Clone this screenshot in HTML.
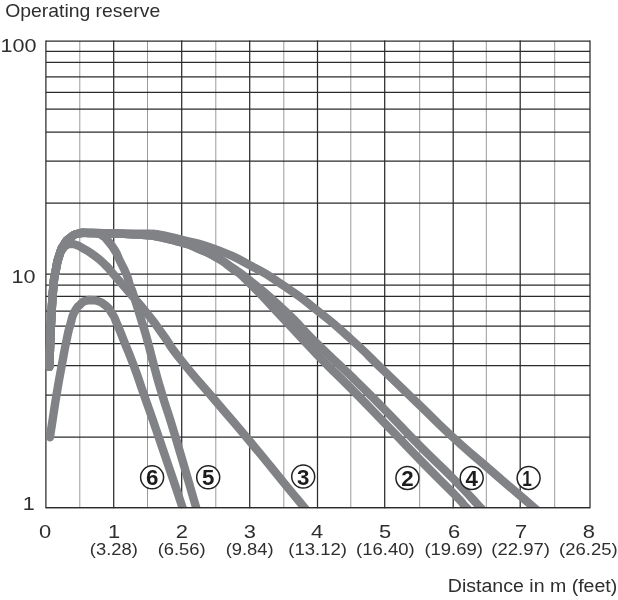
<!DOCTYPE html>
<html lang="en"><head><meta charset="utf-8"><title>Operating reserve</title>
<style>
html,body{margin:0;padding:0;background:#fff}
svg{display:block;will-change:transform}
text{font-family:"Liberation Sans",sans-serif;fill:#2e2e2e}
</style></head><body>
<svg width="618" height="600" viewBox="0 0 618 600">
<rect width="618" height="600" fill="#fff"/>
<defs><clipPath id="cp"><rect x="45.4" y="30" width="560" height="477.6"/></clipPath></defs>

<g stroke="#9a9a9e" stroke-width="1"><line x1="79.80" y1="41.1" x2="79.80" y2="507.6"/><line x1="147.50" y1="41.1" x2="147.50" y2="507.6"/><line x1="215.80" y1="41.1" x2="215.80" y2="507.6"/><line x1="283.80" y1="41.1" x2="283.80" y2="507.6"/><line x1="350.80" y1="41.1" x2="350.80" y2="507.6"/><line x1="419.70" y1="41.1" x2="419.70" y2="507.6"/><line x1="486.30" y1="41.1" x2="486.30" y2="507.6"/><line x1="554.70" y1="41.1" x2="554.70" y2="507.6"/></g>
<g stroke="#2b2b2b" stroke-width="1.25"><line x1="45.90" y1="40.5" x2="45.90" y2="508.2"/><line x1="113.70" y1="40.5" x2="113.70" y2="508.2"/><line x1="181.70" y1="40.5" x2="181.70" y2="508.2"/><line x1="249.70" y1="40.5" x2="249.70" y2="508.2"/><line x1="317.50" y1="40.5" x2="317.50" y2="508.2"/><line x1="384.70" y1="40.5" x2="384.70" y2="508.2"/><line x1="453.20" y1="40.5" x2="453.20" y2="508.2"/><line x1="520.20" y1="40.5" x2="520.20" y2="508.2"/><line x1="590.00" y1="40.5" x2="590.00" y2="508.2"/><line x1="45.90" y1="41.1" x2="590.00" y2="41.1"/><line x1="45.90" y1="51.4" x2="590.00" y2="51.4"/><line x1="45.90" y1="62.3" x2="590.00" y2="62.3"/><line x1="45.90" y1="76.8" x2="590.00" y2="76.8"/><line x1="45.90" y1="92.4" x2="590.00" y2="92.4"/><line x1="45.90" y1="109.0" x2="590.00" y2="109.0"/><line x1="45.90" y1="132.0" x2="590.00" y2="132.0"/><line x1="45.90" y1="161.0" x2="590.00" y2="161.0"/><line x1="45.90" y1="203.0" x2="590.00" y2="203.0"/><line x1="45.90" y1="274.0" x2="590.00" y2="274.0"/><line x1="45.90" y1="285.0" x2="590.00" y2="285.0"/><line x1="45.90" y1="296.4" x2="590.00" y2="296.4"/><line x1="45.90" y1="311.0" x2="590.00" y2="311.0"/><line x1="45.90" y1="326.0" x2="590.00" y2="326.0"/><line x1="45.90" y1="343.6" x2="590.00" y2="343.6"/><line x1="45.90" y1="365.6" x2="590.00" y2="365.6"/><line x1="45.90" y1="395.0" x2="590.00" y2="395.0"/><line x1="45.90" y1="437.0" x2="590.00" y2="437.0"/><line x1="45.90" y1="507.6" x2="590.00" y2="507.6"/></g>
<g clip-path="url(#cp)" fill="none" stroke="#808285" stroke-width="8.4" stroke-linecap="round" stroke-linejoin="round">
<path d="M49.3 366.8 C49.6 359.5 49.5 360.6 50.1 345.0 C50.7 329.4 50.1 339.3 51.2 320.0 C52.3 300.7 51.8 303.7 53.3 287.0 C54.8 270.3 53.8 280.7 55.8 270.0 C57.8 259.3 56.6 263.5 59.4 255.0 C62.2 246.5 60.5 250.3 64.2 244.5 C67.9 238.7 65.6 241.3 70.5 237.6 C75.4 233.9 72.3 235.0 78.8 233.5 C85.3 232.0 78.4 233.1 90.0 233.0 C101.6 232.9 98.6 233.2 113.6 233.3 C128.6 233.5 122.9 233.4 135.0 233.6 C147.1 233.8 143.2 233.7 150.0 233.8 C156.8 233.9 151.5 233.5 155.5 234.0 C159.5 234.5 153.2 233.3 162.0 235.2 C170.8 237.1 163.9 235.0 181.8 239.8 C199.7 244.6 193.1 241.0 215.8 249.5 C238.5 258.0 227.1 253.2 249.8 265.2 C272.5 277.3 261.2 270.6 283.8 285.8 C306.4 300.9 295.2 293.0 317.5 310.8 C339.8 328.5 328.4 318.8 350.8 339.0 C373.2 359.2 361.7 349.4 384.7 371.5 C407.7 393.6 396.9 383.2 419.7 405.2 C442.5 427.2 431.0 417.1 453.2 437.5 C475.4 457.9 467.4 450.0 486.3 466.5 C505.2 483.0 494.3 473.5 510.0 487.0 C525.7 500.5 523.0 498.1 533.5 507.1 C544.0 516.1 538.8 511.7 541.5 513.9"/>
<path d="M49.3 366.8 C49.6 359.5 49.5 360.6 50.1 345.0 C50.7 329.4 50.1 339.3 51.2 320.0 C52.3 300.7 51.8 303.7 53.3 287.0 C54.8 270.3 53.8 280.7 55.8 270.0 C57.8 259.3 56.6 263.5 59.4 255.0 C62.2 246.5 60.5 250.3 64.2 244.5 C67.9 238.7 65.6 241.3 70.5 237.6 C75.4 233.9 72.3 235.0 78.8 233.5 C85.3 232.0 78.4 233.0 90.0 233.0 C101.6 233.0 100.3 233.1 113.6 233.5 C126.9 233.9 118.8 233.6 130.0 234.2 C141.2 234.8 137.3 234.2 147.3 235.2 C157.3 236.2 148.5 234.7 160.0 237.2 C171.5 239.7 169.1 238.8 181.8 242.6 C194.5 246.4 186.7 243.8 198.0 248.6 C209.3 253.4 204.5 250.7 215.8 257.0 C227.1 263.3 220.7 259.6 232.0 267.5 C243.3 275.4 232.5 266.5 249.8 280.6 C267.1 294.7 261.2 288.7 283.8 309.9 C306.4 331.1 295.2 322.1 317.5 344.1 C339.8 366.1 328.4 354.0 350.8 375.8 C373.2 397.6 361.7 386.3 384.7 409.6 C407.7 432.9 396.9 422.8 419.7 445.8 C442.5 468.8 433.1 458.2 453.2 478.6 C473.3 499.1 468.4 494.8 480.0 507.1 C491.6 519.4 485.3 512.8 488.0 515.6"/>
<path d="M49.3 366.8 C49.6 359.5 49.5 360.6 50.1 345.0 C50.7 329.4 50.1 339.3 51.2 320.0 C52.3 300.7 51.8 303.7 53.3 287.0 C54.8 270.3 53.8 280.7 55.8 270.0 C57.8 259.3 56.6 263.5 59.4 255.0 C62.2 246.5 60.5 250.3 64.2 244.5 C67.9 238.7 65.6 241.3 70.5 237.6 C75.4 233.9 72.3 235.0 78.8 233.5 C85.3 232.0 78.4 233.0 90.0 233.0 C101.6 233.0 100.3 233.1 113.6 233.5 C126.9 233.9 118.8 233.6 130.0 234.2 C141.2 234.8 137.3 234.2 147.3 235.2 C157.3 236.2 148.5 234.7 160.0 237.2 C171.5 239.7 169.1 238.8 181.8 242.6 C194.5 246.4 186.7 243.8 198.0 248.6 C209.3 253.4 204.5 250.4 215.8 257.0 C227.1 263.6 220.7 259.7 232.0 268.5 C243.3 277.3 232.5 266.5 249.8 283.4 C267.1 300.3 261.2 295.2 283.8 319.1 C306.4 343.0 295.2 331.9 317.5 355.0 C339.8 378.1 328.4 365.6 350.8 388.3 C373.2 411.0 361.7 399.4 384.7 423.1 C407.7 446.8 396.9 436.1 419.7 459.5 C442.5 482.9 437.8 477.3 453.2 493.2 C468.6 509.1 459.0 499.5 465.9 507.1 C472.8 514.7 471.2 512.9 473.9 515.9"/>
<path d="M49.3 366.8 C49.6 359.5 49.5 360.6 50.1 345.0 C50.7 329.4 50.1 339.3 51.2 320.0 C52.3 300.7 51.8 303.7 53.4 287.0 C55.0 270.3 53.9 280.5 55.9 270.0 C57.9 259.5 57.3 262.4 59.5 255.5 C61.7 248.6 60.4 252.5 62.6 249.2 C64.8 245.9 63.5 247.3 66.0 245.6 C68.5 243.9 66.9 244.2 70.2 244.0 C73.5 243.8 71.7 243.4 76.0 244.9 C80.3 246.4 77.3 245.2 83.0 248.4 C88.7 251.6 85.7 249.2 93.0 254.6 C100.3 260.0 97.9 257.9 104.8 264.5 C111.7 271.1 105.3 264.9 113.7 274.5 C122.1 284.1 118.7 280.1 130.0 293.3 C141.3 306.5 136.5 300.2 147.5 314.0 C158.5 327.8 151.6 319.1 163.0 334.8 C174.4 350.5 164.2 338.9 181.8 361.0 C199.4 383.1 193.1 374.5 215.8 401.2 C238.5 427.9 227.2 414.1 249.8 441.2 C272.4 468.3 265.6 460.6 283.5 482.4 C301.4 504.2 294.2 495.3 303.4 506.5 C312.5 517.7 308.4 512.8 311.0 516.0"/>
<path d="M49.3 366.8 C49.6 359.5 49.5 360.6 50.1 345.0 C50.7 329.4 50.1 339.3 51.2 320.0 C52.3 300.7 51.8 303.7 53.3 287.0 C54.8 270.3 53.8 280.7 55.8 270.0 C57.8 259.3 56.6 263.5 59.4 255.0 C62.2 246.5 60.5 250.3 64.2 244.5 C67.9 238.7 65.6 241.3 70.5 237.6 C75.4 233.9 72.3 235.0 78.8 233.5 C85.3 232.0 84.3 233.0 90.0 233.0 C95.7 233.0 92.0 232.6 96.0 233.4 C100.0 234.2 98.0 233.0 102.0 235.5 C106.0 238.0 103.6 235.8 108.0 241.0 C112.4 246.2 111.4 244.7 115.2 251.0 C119.0 257.3 115.8 252.3 119.5 260.0 C123.2 267.7 122.8 265.6 126.3 274.0 C129.8 282.4 127.3 277.8 129.9 285.3 C132.5 292.8 129.6 282.9 134.0 296.5 C138.4 310.1 138.5 310.4 143.2 326.0 C147.9 341.6 144.6 330.3 148.2 343.4 C151.8 356.5 149.2 348.1 153.9 365.3 C158.6 382.5 155.1 371.2 162.3 395.0 C169.5 418.8 164.2 399.5 175.4 436.8 C186.6 474.1 188.2 480.4 195.9 506.8 C203.6 533.2 197.7 512.9 198.6 516.0"/>
<path d="M49.9 437.3 C50.8 431.5 50.4 434.1 52.6 420.0 C54.8 405.9 53.5 413.1 56.5 395.0 C59.5 376.9 58.3 384.0 61.7 365.7 C65.1 347.4 63.7 353.9 66.6 340.0 C69.5 326.1 67.9 333.3 70.5 324.0 C73.1 314.7 71.2 318.6 74.5 312.0 C77.8 305.4 76.7 307.9 80.5 304.2 C84.3 300.5 82.2 302.1 86.0 300.8 C89.8 299.5 88.0 300.1 92.0 300.2 C96.0 300.3 93.5 299.4 98.0 301.2 C102.5 303.0 100.8 301.4 105.5 305.5 C110.2 309.6 108.0 307.0 112.0 313.5 C116.0 320.0 113.2 315.0 117.5 325.0 C121.8 335.0 119.5 330.0 124.9 343.4 C130.3 356.8 127.2 348.1 133.6 365.3 C140.0 382.5 135.7 371.1 144.0 394.9 C152.3 418.7 145.8 399.5 158.6 436.8 C171.4 474.1 173.4 480.4 182.3 506.8 C191.2 533.2 184.4 512.9 185.4 516.0"/>
</g>
<line x1="45.90" y1="507.6" x2="590.00" y2="507.6" stroke="#2b2b2b" stroke-width="1.25"/>
<circle cx="152.1" cy="477.3" r="11.5" fill="#fff" stroke="#222" stroke-width="1.5"/>
<text x="152.1" y="485.2" text-anchor="middle" font-size="22.2" font-weight="700" textLength="12.4" lengthAdjust="spacingAndGlyphs" style="fill:#1c1c1c">6</text>
<circle cx="208.2" cy="477.3" r="11.5" fill="#fff" stroke="#222" stroke-width="1.5"/>
<text x="208.2" y="485.2" text-anchor="middle" font-size="22.2" font-weight="700" textLength="12.4" lengthAdjust="spacingAndGlyphs" style="fill:#1c1c1c">5</text>
<circle cx="303.2" cy="476.6" r="11.5" fill="#fff" stroke="#222" stroke-width="1.5"/>
<text x="303.2" y="484.5" text-anchor="middle" font-size="22.2" font-weight="700" textLength="12.4" lengthAdjust="spacingAndGlyphs" style="fill:#1c1c1c">3</text>
<circle cx="407.4" cy="478.0" r="11.5" fill="#fff" stroke="#222" stroke-width="1.5"/>
<text x="407.4" y="485.9" text-anchor="middle" font-size="22.2" font-weight="700" textLength="12.4" lengthAdjust="spacingAndGlyphs" style="fill:#1c1c1c">2</text>
<circle cx="471.7" cy="478.0" r="11.5" fill="#fff" stroke="#222" stroke-width="1.5"/>
<text x="471.7" y="485.9" text-anchor="middle" font-size="22.2" font-weight="700" textLength="12.4" lengthAdjust="spacingAndGlyphs" style="fill:#1c1c1c">4</text>
<circle cx="528.6" cy="478.0" r="11.5" fill="#fff" stroke="#222" stroke-width="1.5"/>
<text x="527.0" y="485.9" text-anchor="middle" font-size="22.2" font-weight="700" textLength="9.6" lengthAdjust="spacingAndGlyphs" style="fill:#1c1c1c">1</text>
<text x="5.2" y="17.1" font-size="18.5" text-anchor="start" textLength="155.0" lengthAdjust="spacingAndGlyphs">Operating reserve</text>
<text x="0.6" y="51.7" font-size="19.2" text-anchor="start" textLength="36.0" lengthAdjust="spacingAndGlyphs">100</text>
<text x="11.4" y="282.8" font-size="19.2" text-anchor="start" textLength="24.0" lengthAdjust="spacingAndGlyphs">10</text>
<text x="22.7" y="510.0" font-size="19.2" text-anchor="start" textLength="12.0" lengthAdjust="spacingAndGlyphs">1</text>
<text x="45.1" y="538.0" font-size="19.0" text-anchor="middle" textLength="12.2" lengthAdjust="spacingAndGlyphs">0</text>
<text x="114.2" y="538.0" font-size="19.0" text-anchor="middle" textLength="12.2" lengthAdjust="spacingAndGlyphs">1</text>
<text x="113.8" y="555.3" font-size="17.0" text-anchor="middle" textLength="48.0" lengthAdjust="spacingAndGlyphs">(3.28)</text>
<text x="181.8" y="538.0" font-size="19.0" text-anchor="middle" textLength="12.2" lengthAdjust="spacingAndGlyphs">2</text>
<text x="181.7" y="555.3" font-size="17.0" text-anchor="middle" textLength="48.0" lengthAdjust="spacingAndGlyphs">(6.56)</text>
<text x="249.8" y="538.0" font-size="19.0" text-anchor="middle" textLength="12.2" lengthAdjust="spacingAndGlyphs">3</text>
<text x="249.7" y="555.3" font-size="17.0" text-anchor="middle" textLength="48.0" lengthAdjust="spacingAndGlyphs">(9.84)</text>
<text x="317.2" y="538.0" font-size="19.0" text-anchor="middle" textLength="12.2" lengthAdjust="spacingAndGlyphs">4</text>
<text x="317.6" y="555.3" font-size="17.0" text-anchor="middle" textLength="58.6" lengthAdjust="spacingAndGlyphs">(13.12)</text>
<text x="385.0" y="538.0" font-size="19.0" text-anchor="middle" textLength="12.2" lengthAdjust="spacingAndGlyphs">5</text>
<text x="385.4" y="555.3" font-size="17.0" text-anchor="middle" textLength="58.6" lengthAdjust="spacingAndGlyphs">(16.40)</text>
<text x="454.1" y="538.0" font-size="19.0" text-anchor="middle" textLength="12.2" lengthAdjust="spacingAndGlyphs">6</text>
<text x="453.7" y="555.3" font-size="17.0" text-anchor="middle" textLength="58.6" lengthAdjust="spacingAndGlyphs">(19.69)</text>
<text x="521.0" y="538.0" font-size="19.0" text-anchor="middle" textLength="12.2" lengthAdjust="spacingAndGlyphs">7</text>
<text x="520.6" y="555.3" font-size="17.0" text-anchor="middle" textLength="58.6" lengthAdjust="spacingAndGlyphs">(22.97)</text>
<text x="588.9" y="538.0" font-size="19.0" text-anchor="middle" textLength="12.2" lengthAdjust="spacingAndGlyphs">8</text>
<text x="588.4" y="555.3" font-size="17.0" text-anchor="middle" textLength="58.6" lengthAdjust="spacingAndGlyphs">(26.25)</text>
<text x="447.8" y="591.6" font-size="18.8" text-anchor="start" textLength="169.5" lengthAdjust="spacingAndGlyphs">Distance in m (feet)</text>
</svg></body></html>
